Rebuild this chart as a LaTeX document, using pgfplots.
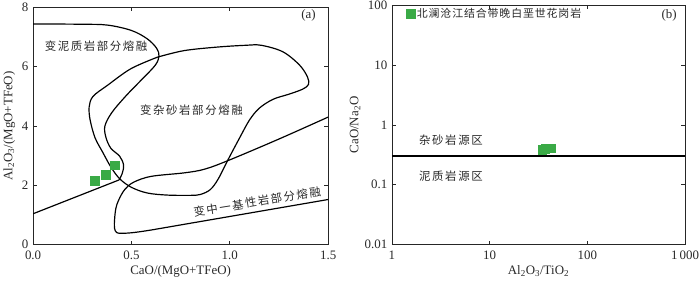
\documentclass[border=0pt]{standalone}
\usepackage{pgfplots}
\pgfplotsset{compat=1.18}
\usepackage{fontspec}
\setmainfont{Liberation Serif}
\newfontfamily\cjk{Noto Sans CJK SC}[LetterSpace=14]
\newfontfamily\cjkl{Noto Sans CJK SC}[LetterSpace=8]
\definecolor{grn}{RGB}{58,170,70}
\definecolor{txt}{RGB}{40,40,40}
\begin{document}
\begin{tikzpicture}
\path (0bp,0bp) rectangle (700bp,279bp);
\pgfplotsset{
  every axis/.append style={
    scale only axis, anchor=south west,
    tick align=inside, major tick length=4bp,
    axis line style={line width=0.9pt, black!85},
    every tick/.style={line width=0.8pt, black!85},
    tick label style={font=\fontsize{13}{14}\selectfont, text=txt, inner sep=1bp},
    x tick label style={yshift=-5bp},
    y tick label style={xshift=-3.5bp},
    label style={font=\fontsize{13}{14}\selectfont, text=txt},
    clip=true,
  },
  curve/.style={black, line width=1.2pt, smooth, tension=0.55, no marks},
}
% ---------------- (a) ----------------
\begin{axis}[at={(32bp,36bp)}, width=296bp, height=238bp,
  xmin=0, xmax=1.5, ymin=0, ymax=8,
  xtick={0,0.5,1,1.5}, xticklabels={0.0,0.5,1.0,1.5},
  ytick={0,2,4,6,8}, yticklabels={0,2,4,6,8},
  xlabel={CaO/(MgO+TFeO)},
  ylabel={Al\textsubscript{2}O\textsubscript{3}/(MgO+TFeO)},
  xlabel style={at={(axis description cs:0.5,0)}, anchor=center, yshift=-27bp},
  ylabel style={at={(axis description cs:0,0.5)}, anchor=center, yshift=24bp},
]
% metapelite
\addplot[curve] coordinates {(0,7.44)(0.25,7.43)(0.38,7.40)(0.50,7.22)(0.58,6.94)(0.628,6.62)(0.64,6.35)(0.62,6.04)(0.55,5.55)(0.47,5.0)(0.40,4.45)(0.365,4.0)(0.37,3.62)(0.395,3.25)(0.44,2.98)(0.46,2.68)(0.452,2.38)(0.437,2.18)};
% greywacke (closed)
\addplot[curve] coordinates {(0.632,6.32)(0.767,6.54)(0.936,6.66)(1.08,6.72)(1.16,6.72)(1.27,6.5)(1.355,6.05)(1.395,5.65)(1.40,5.4)(1.37,5.24)(1.30,5.07)(1.22,4.9)(1.15,4.6)(1.10,4.2)(1.05,3.6)(0.99,2.85)(0.94,2.2)(0.9,1.85)(0.85,1.69)(0.80,1.66)(0.68,1.67)(0.58,1.74)(0.50,1.93)(0.44,2.22)(0.395,2.62)(0.355,3.1)(0.315,3.6)(0.29,4.2)(0.285,4.65)(0.305,5.0)(0.378,5.37)(0.497,5.93)(0.632,6.32)};
% mafic field
\addplot[curve] coordinates {(1.5,4.30)(1.25,3.56)(0.99,2.83)(0.87,2.54)(0.77,2.42)(0.6,2.3)(0.51,2.1)(0.465,1.85)(0.435,1.5)(0.42,1.2)(0.413,0.7)(0.418,0.46)(0.445,0.38)(0.55,0.44)(0.8,0.72)(1.5,1.52)};
% dividing line
\addplot[black, line width=1.2pt, no marks] coordinates {(0,1.04)(0.437,2.18)};
% samples
\addplot[only marks, mark=square*, mark size=4.3bp, mark options={fill=grn, draw=grn}] coordinates {(0.314,2.15)(0.368,2.36)(0.416,2.68)};
\node[font=\fontsize{11.5}{13}\selectfont\cjk, text=txt] at (axis cs:0.32,6.69) {变泥质岩部分熔融};
\node[font=\fontsize{11.5}{13}\selectfont\cjk, text=txt] at (axis cs:0.805,4.53) {变杂砂岩部分熔融};
\node[font=\fontsize{11.5}{13}\selectfont\cjk, text=txt, rotate=9] at (axis cs:1.139,1.445) {变中一基性岩部分熔融};
\node[font=\fontsize{13}{14}\selectfont, text=txt] at (axis cs:1.40,7.73) {(a)};
\end{axis}
% ---------------- (b) ----------------
\begin{axis}[at={(392bp,36bp)}, width=294bp, height=240bp,
  xmode=log, ymode=log, xmin=1, xmax=1000, ymin=0.01, ymax=100,
  xminorticks=false, yminorticks=false,
  xtick={1,10,100,1000}, xticklabels={1,10,100,1\,000},
  ytick={0.01,0.1,1,10,100}, yticklabels={0.01,0.1,1,10,100},
  xlabel={Al\textsubscript{2}O\textsubscript{3}/TiO\textsubscript{2}},
  ylabel={CaO/Na\textsubscript{2}O},
  xlabel style={at={(axis description cs:0.5,0)}, anchor=center, yshift=-27bp},
  ylabel style={at={(axis description cs:0,0.5)}, anchor=center, yshift=37bp},
  legend style={at={(0.045,1.0)}, anchor=north west, draw=none, fill=none,
    font=\fontsize{11}{12}\selectfont\cjkl, text=txt, inner sep=1bp,
    legend cell align=left},
]
\addplot[black, line width=1.4pt, no marks, forget plot] coordinates {(1,0.305)(1000,0.305)};
\addplot[only marks, mark=square*, mark size=4.3bp, mark options={fill=grn, draw=grn}] coordinates {(34.5,0.39)(37,0.40)(40,0.41)(42.5,0.41)};
\addlegendentry{北澜沧江结合带晚白垩世花岗岩}
\node[font=\fontsize{11.5}{13}\selectfont\cjk, text=txt, anchor=west] at (axis cs:1.75,0.557) {杂砂岩源区};
\node[font=\fontsize{11.5}{13}\selectfont\cjk, text=txt, anchor=west] at (axis cs:1.75,0.142) {泥质岩源区};
\node[font=\fontsize{13}{14}\selectfont, text=txt] at (axis cs:687,66.7) {(b)};
\end{axis}
\end{tikzpicture}
\end{document}
